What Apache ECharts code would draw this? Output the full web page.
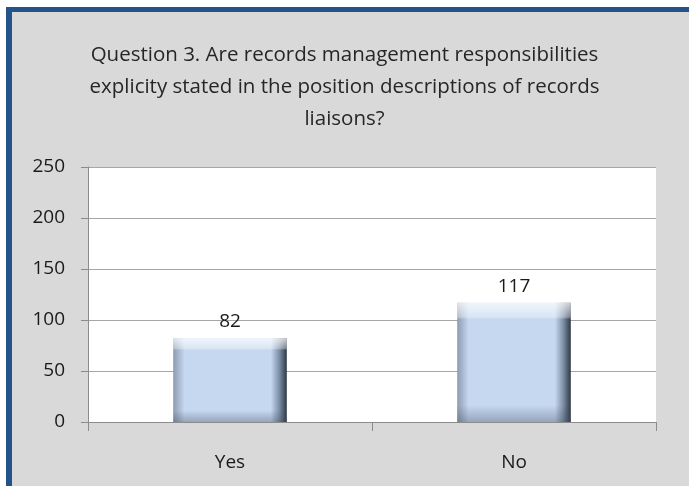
<!DOCTYPE html>
<html>
<head>
<meta charset="utf-8">
<script src="https://cdn.jsdelivr.net/npm/echarts@6/dist/echarts.min.js"></script>
<style>
  html, body { margin: 0; padding: 0; background: #fff; }
  #frame {
    position: absolute; left: 6px; top: 7px; width: 683px; height: 479px;
    background: #d9d9d9; border-top: 5px solid #24528a; border-left: 6px solid #24528a;
    box-sizing: border-box;
  }
  #chart { position: absolute; left: 0; top: 0; width: 689px; height: 486px; }
</style>
</head>
<body>
<div id="frame"></div>
<div id="chart"></div>
<script>
// 数据
var titleLines = [
    'Question 3. Are records management responsibilities',
    'explicity stated in the position descriptions of records',
    'liaisons?'
]
var categories = ['Yes', 'No']
var counts = [82, 117]
var yTicks = [0, 50, 100, 150, 200, 250]

var fontName = '"Open Sans", "Noto Sans", sans-serif'

var myChart = echarts.init(document.getElementById('chart'), null, { renderer: 'canvas' })
var option = {
    animation: false,
    backgroundColor: 'transparent',
    title: {
        text: titleLines.join('\n'),
        left: 'center',
        top: 34,
        textStyle: {
            color: '#262626',
            fontFamily: fontName,
            fontWeight: 'normal',
            fontSize: 20.5,
            lineHeight: 32
        }
    },
    grid: {
        left: 88,
        right: 33,
        top: 167,
        bottom: 64,
        show: true,
        backgroundColor: '#ffffff',
        borderWidth: 0
    },
    xAxis: {
        type: 'category',
        data: categories,
        axisLine: { lineStyle: { color: '#8c8c8c', width: 1 } },
        axisTick: { show: true, length: 9, alignWithLabel: false, lineStyle: { color: '#8c8c8c' } },
        axisLabel: { color: '#1a1a1a', fontFamily: fontName, fontSize: 19, margin: 31 }
    },
    yAxis: {
        type: 'value',
        min: yTicks[0],
        max: yTicks[yTicks.length - 1],
        interval: 50,
        axisLine: { show: true, lineStyle: { color: '#8c8c8c' } },
        axisTick: { show: true, length: 7, inside: false, lineStyle: { color: '#8c8c8c' } },
        splitLine: { show: true, lineStyle: { color: '#a6a6a6', width: 1 } },
        axisLabel: { color: '#1a1a1a', fontFamily: fontName, fontSize: 19, margin: 23 }
    },
    series: [
        {
            type: 'bar',
            data: counts,
            barWidth: '40%',
            itemStyle: {
                color: new echarts.graphic.LinearGradient(0, 0, 1, 0, [
                    { offset: 0, color: '#8d9bb0' },
                    { offset: 0.1, color: '#c5d8ef' },
                    { offset: 0.86, color: '#c5d8ef' },
                    { offset: 0.93, color: '#8193ab' },
                    { offset: 1, color: '#2e3845' }
                ])
            },
            label: {
                show: true,
                position: 'top',
                distance: 7,
                color: '#1a1a1a',
                fontFamily: fontName,
                fontSize: 19
            }
        },
        {
            // 斜面高光层
            type: 'bar',
            data: counts,
            barWidth: '40%',
            barGap: '-100%',
            silent: true,
            itemStyle: {
                color: new echarts.graphic.LinearGradient(0, 0, 0, 1, [
                    { offset: 0, color: 'rgba(255,255,255,0.75)' },
                    { offset: 0.12, color: 'rgba(255,255,255,0.35)' },
                    { offset: 0.14, color: 'rgba(255,255,255,0)' },
                    { offset: 0.86, color: 'rgba(60,70,90,0)' },
                    { offset: 1, color: 'rgba(60,70,90,0.35)' }
                ])
            }
        }
    ]
}
myChart.setOption(option)
</script>
</body>
</html>
